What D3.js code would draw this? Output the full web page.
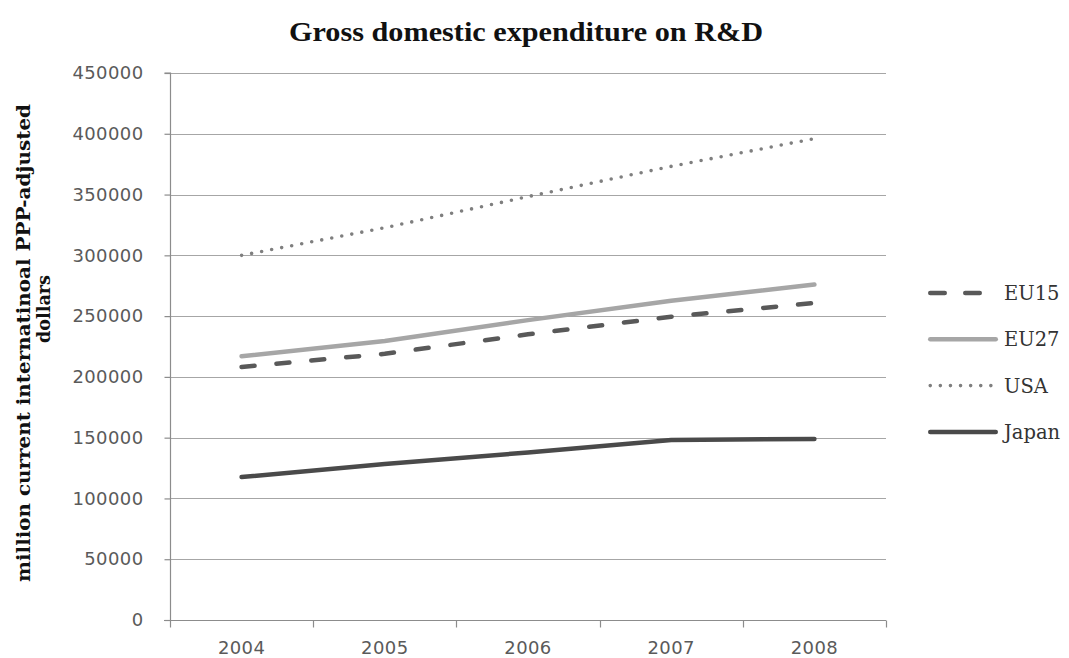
<!DOCTYPE html>
<html>
<head>
<meta charset="utf-8">
<script src="https://cdn.jsdelivr.net/npm/d3@7"></script>
<style>
  html, body { margin: 0; padding: 0; background: #fff; }
  svg { display: block; }
</style>
</head>
<body>
<svg id="chart" width="1069" height="658"></svg>
<script>
// Gross domestic expenditure on R&D, million current international PPP-adjusted dollars
const years = ["2004", "2005", "2006", "2007", "2008"];
const eu15  = [208200, 219000, 235000, 249500, 260800];
const eu27  = [217000, 229500, 246700, 262700, 276000];
const usa   = [300000, 322700, 348300, 373200, 396000];
const japan = [117600, 128300, 137800, 148100, 149000];
const yTicks = [0, 50000, 100000, 150000, 200000, 250000, 300000, 350000, 400000, 450000];

const series = [
  { name: "EU15",  values: eu15,  color: "#595959", width: 4.5, dash: "13,22",  legendDash: "14.5,20.5" },
  { name: "EU27",  values: eu27,  color: "#a6a6a6", width: 4.5, dash: null,     legendDash: null },
  { name: "USA",   values: usa,   color: "#7f7f7f", width: 3.6, dash: "0,10.2", legendDash: "0,10.1" },
  { name: "Japan", values: japan, color: "#4a4a4a", width: 4.5, dash: null,     legendDash: null }
];

const svg = d3.select("#chart");
const plot = { left: 170, right: 886, top: 73, bottom: 620 };

const x = d3.scaleBand().domain(years).range([plot.left, plot.right]).padding(0);
const y = d3.scaleLinear().domain([0, 450000]).range([plot.bottom, plot.top]);
const cx = d => x(d) + x.bandwidth() / 2;

const tickFont = "'DejaVu Sans', Verdana, sans-serif";
const axisColor = "#8c8c8c";

// horizontal gridlines
svg.append("g")
  .selectAll("line")
  .data(yTicks.filter(t => t > 0))
  .join("line")
  .attr("x1", plot.left).attr("x2", plot.right)
  .attr("y1", d => Math.round(y(d)) + 0.5).attr("y2", d => Math.round(y(d)) + 0.5)
  .attr("stroke", "#a6a6a6").attr("stroke-width", 1.2);

// y axis
const yAxis = svg.append("g")
  .attr("transform", `translate(${plot.left + 0.5},0)`)
  .call(d3.axisLeft(y).tickValues(yTicks).tickFormat(d3.format("d")).tickSize(6).tickPadding(21));
yAxis.select(".domain").attr("stroke", axisColor).attr("stroke-width", 1.2)
  .attr("d", `M-6,${plot.top}H0V${plot.bottom}`);
yAxis.selectAll(".tick line").attr("stroke", axisColor).attr("stroke-width", 1.2);
yAxis.selectAll(".tick text")
  .attr("font-family", tickFont)
  .attr("font-size", 18)
  .attr("letter-spacing", 0.4)
  .attr("fill", "#5a5a5a");

// x axis with ticks on the category boundaries
const xAxisG = svg.append("g").attr("transform", `translate(0,${Math.round(plot.bottom) + 0.5})`);
xAxisG.append("line")
  .attr("x1", plot.left - 6).attr("x2", plot.right)
  .attr("stroke", axisColor).attr("stroke-width", 1.2);
xAxisG.selectAll("line.tick")
  .data(years.map(d => x(d)).concat([plot.right]))
  .join("line")
  .attr("class", "tick")
  .attr("x1", d => Math.round(d) + 0.5).attr("x2", d => Math.round(d) + 0.5)
  .attr("y1", 0).attr("y2", 7)
  .attr("stroke", axisColor).attr("stroke-width", 1.2);
xAxisG.selectAll("text")
  .data(years)
  .join("text")
  .attr("x", d => cx(d))
  .attr("y", 33)
  .attr("text-anchor", "middle")
  .attr("font-family", tickFont)
  .attr("font-size", 18)
  .attr("letter-spacing", 0.4)
  .attr("fill", "#5a5a5a")
  .text(d => d);

// series lines
const line = d3.line().x((d, i) => cx(years[i])).y(d => y(d));
svg.append("g")
  .selectAll("path")
  .data(series)
  .join("path")
  .attr("d", s => line(s.values))
  .attr("fill", "none")
  .attr("stroke", s => s.color)
  .attr("stroke-width", s => s.width)
  .attr("stroke-linecap", "round")
  .attr("stroke-linejoin", "round")
  .attr("stroke-dasharray", s => s.dash);

// title
svg.append("text")
  .attr("x", 526).attr("y", 41)
  .attr("text-anchor", "middle")
  .attr("font-family", "'Liberation Serif', 'Times New Roman', serif")
  .attr("font-weight", "bold")
  .attr("font-size", 27)
  .attr("textLength", 474)
  .attr("lengthAdjust", "spacingAndGlyphs")
  .attr("fill", "#111")
  .text("Gross domestic expenditure on R&D");

// y axis title (two lines)
const yTitleFont = "'DejaVu Serif', 'Liberation Serif', serif";
svg.append("text")
  .attr("transform", "translate(30,343) rotate(-90)")
  .attr("text-anchor", "middle")
  .attr("font-family", yTitleFont)
  .attr("font-weight", "bold")
  .attr("font-size", 18)
  .attr("textLength", 478)
  .attr("lengthAdjust", "spacingAndGlyphs")
  .attr("fill", "#111")
  .text("million current internatinoal PPP-adjusted");
svg.append("text")
  .attr("transform", "translate(50,309) rotate(-90)")
  .attr("text-anchor", "middle")
  .attr("font-family", yTitleFont)
  .attr("font-weight", "bold")
  .attr("font-size", 18)
  .attr("textLength", 68)
  .attr("lengthAdjust", "spacingAndGlyphs")
  .attr("fill", "#111")
  .text("dollars");

// legend
const legend = svg.append("g").attr("transform", "translate(928,293)");
const item = legend.selectAll("g")
  .data(series)
  .join("g")
  .attr("transform", (d, i) => `translate(0,${i * 46.3})`);
item.append("line")
  .attr("x1", 2.25).attr("x2", s => s.name === "USA" ? 63 : (s.name === "EU15" ? 53.75 : 67.75))
  .attr("y1", 0).attr("y2", 0)
  .attr("stroke", s => s.color)
  .attr("stroke-width", s => s.width)
  .attr("stroke-linecap", "round")
  .attr("stroke-dasharray", s => s.legendDash);
item.append("text")
  .attr("x", 76).attr("y", 7)
  .attr("font-family", "'DejaVu Serif', 'Liberation Serif', serif")
  .attr("font-size", 19.5)
  .attr("fill", "#333")
  .text(s => s.name);
</script>
</body>
</html>
